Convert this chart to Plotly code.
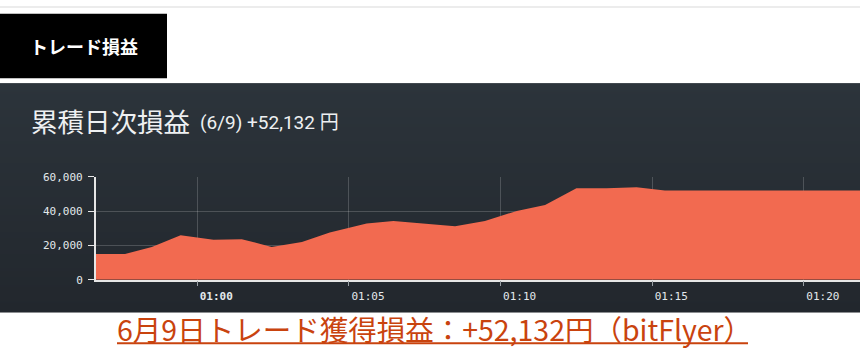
import plotly.graph_objects as go
from datetime import datetime
import zlib, struct, base64

# ---- data ----
times = ["00:56:39", "00:57:37", "00:58:30", "00:59:27", "01:00:32", "01:01:28",
         "01:02:27", "01:03:27", "01:04:22", "01:05:35", "01:06:28", "01:07:30",
         "01:08:30", "01:09:29", "01:10:32", "01:11:28", "01:12:30", "01:13:30",
         "01:14:29", "01:15:25", "01:16:30", "01:17:30", "01:18:30", "01:19:30",
         "01:20:30", "01:21:30", "01:22:30"]
pnl = [15040, 15000, 19150, 25900, 23270, 23660, 19150, 21970, 27600, 32850,
       34200, 32680, 31150, 34200, 40170, 43550, 53350, 53400, 53900, 52132,
       52132, 52132, 52132, 52132, 52132, 52132, 52132]
x_tick_times = ["01:00:00", "01:05:00", "01:10:00", "01:15:00", "01:20:00"]
x_tick_text = ["<b>01:00</b>", "01:05", "01:10", "01:15", "01:20"]
y_ticks = [0, 20000, 40000, 60000]
x_range = ["00:56:39", "01:21:51"]

header_label = "トレード損益"
title_main = "累積日次損益"
title_sub = "(6/9) +52,132 円"
caption = "6月9日トレード獲得損益：+52,132円（bitFlyer）"

def ts(s):
    return datetime.strptime("2018-06-09 " + s, "%Y-%m-%d %H:%M:%S")

def gradient_png(top, bot, h, w=4):
    rows = b""
    for i in range(h):
        f = i / (h - 1)
        c = bytes(round(top[k] + (bot[k] - top[k]) * f) for k in range(3))
        rows += b"\x00" + c * w
    def chunk(tag, data):
        return (struct.pack(">I", len(data)) + tag + data +
                struct.pack(">I", zlib.crc32(tag + data) & 0xffffffff))
    png = (b"\x89PNG\r\n\x1a\n" +
           chunk(b"IHDR", struct.pack(">IIBBBBB", w, h, 8, 2, 0, 0, 0)) +
           chunk(b"IDAT", zlib.compress(rows)) + chunk(b"IEND", b""))
    return "data:image/png;base64," + base64.b64encode(png).decode()

W, H = 860, 360
fig = go.Figure()
fig.add_trace(go.Scatter(
    x=[ts(t) for t in times], y=pnl, mode="lines", fill="tozeroy",
    line=dict(width=0, color="#f26a50"), fillcolor="#f26a50",
    hoverinfo="skip", showlegend=False))

p_top, p_bot = 80, 318
images = [dict(source=gradient_png((0x2c, 0x34, 0x3b), (0x22, 0x27, 0x2d), p_bot - p_top),
               xref="paper", yref="paper", x=0, y=1 - p_top / H, sizex=1,
               sizey=(p_bot - p_top) / H, xanchor="left", yanchor="top",
               sizing="stretch", layer="below")]

shapes = [
    dict(type="rect", xref="paper", yref="paper", x0=0, x1=1, y0=1 - 2 / H, y1=1,
         fillcolor="#ececec", line_width=0, layer="below"),
    dict(type="rect", xref="paper", yref="paper", x0=0, x1=167 / W,
         y0=1 - 75 / H, y1=1 - 8 / H, fillcolor="#000000", line_width=0, layer="below"),
    dict(type="line", xref="paper", yref="paper", x0=117 / W, x1=748 / W,
         y0=1 - 350 / H, y1=1 - 350 / H, line=dict(color="#c9430e", width=2)),
]

annotations = [
    dict(text="<b>" + header_label + "</b>", xref="paper", yref="paper",
         x=84 / W, y=1 - 42 / H, xanchor="center", yanchor="middle", showarrow=False,
         font=dict(family="Noto Sans CJK JP", size=18, color="#ffffff")),
    dict(text=title_main, xref="paper", yref="paper", x=29 / W, y=1 - 119 / H,
         xanchor="left", yanchor="middle", showarrow=False,
         font=dict(family="Noto Sans CJK JP", size=26.5, color="#eef0f2")),
    dict(text=title_sub, xref="paper", yref="paper", x=198 / W, y=1 - 121 / H,
         xanchor="left", yanchor="middle", showarrow=False,
         font=dict(family="Roboto, Noto Sans CJK JP", size=19, color="#eef0f2")),
    dict(text=caption, xref="paper", yref="paper", x=115 / W, y=1 - 335 / H,
         xanchor="left", yanchor="middle", showarrow=False,
         font=dict(family="Noto Sans CJK JP", size=28.5, color="#c9430e")),
]

tick_font = dict(family="DejaVu Sans Mono", size=11, color="#e3e9ec")
fig.update_layout(
    width=W, height=H, margin=dict(l=0, r=0, t=0, b=0),
    paper_bgcolor="#ffffff", plot_bgcolor="rgba(0,0,0,0)",
    shapes=shapes, annotations=annotations, images=images,
    xaxis=dict(domain=[95.7 / W, 1], type="date",
               range=[ts(x_range[0]), ts(x_range[1])],
               tickvals=[ts(t) for t in x_tick_times], ticktext=x_tick_text,
               showgrid=True, gridcolor="rgba(255,255,255,0.18)", gridwidth=1,
               showline=True, linecolor="#e6e6e6", linewidth=1.5,
               ticks="outside", ticklen=5, tickcolor="#9aa0a5",
               ticklabelshift=19, tickfont=tick_font, zeroline=False,
               fixedrange=True),
    yaxis=dict(domain=[(H - 284) / H, (H - 177.3) / H], range=[0, 60000],
               tickvals=y_ticks, tickformat=",d",
               showgrid=True, gridcolor="rgba(255,255,255,0.18)", gridwidth=1,
               showline=True, linecolor="#e6e6e6", linewidth=1.5,
               ticks="outside", ticklen=6, tickcolor="#e6e6e6",
               ticklabelstandoff=3,
               tickfont=tick_font, zeroline=False, fixedrange=True),
)

fig.write_html("out.html")
